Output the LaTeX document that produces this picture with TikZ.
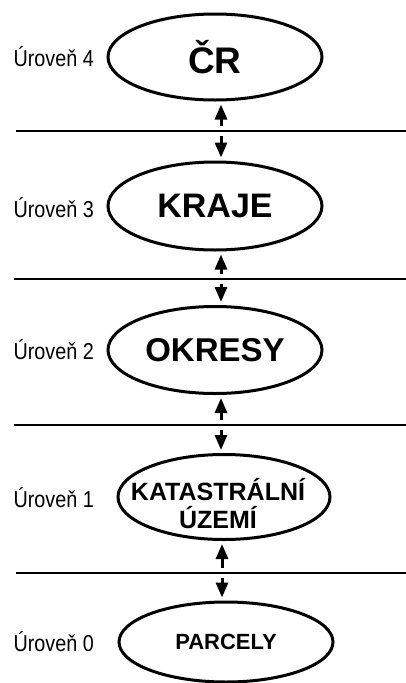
\documentclass[tikz,border=0pt]{standalone}
\usepackage{fontspec}
\setmainfont{Liberation Sans}
\newfontfamily\narrowfont[FakeStretch=0.86]{Liberation Sans}
\usepackage{tikz}
\usetikzlibrary{shapes.geometric, arrows.meta}

\tikzset{
  level/.style={draw, ellipse, line width=3pt, inner sep=0pt, font=\bfseries, align=center},
  lbl/.style={anchor=west, font=\narrowfont\fontsize{23}{23}\selectfont},
  sep/.style={line width=2.5pt},
  tip/.style={line width=3pt, shorten >=3pt, -{Triangle[width=12pt,length=15pt]}}
}

\begin{document}
\begin{tikzpicture}[x=1pt,y=-1pt]
\useasboundingbox (0,0) rectangle (406,683);
% the five levels
\node[level, minimum width=214pt, minimum height=86pt, font=\bfseries\fontsize{37}{37}\selectfont] (cr) at (215,57) {ČR};
\node[level, minimum width=214pt, minimum height=88pt, font=\bfseries\fontsize{34}{34}\selectfont] (kraje) at (215,206) {KRAJE};
\node[level, minimum width=214pt, minimum height=87pt, font=\bfseries\fontsize{33}{33}\selectfont] (okresy) at (215,350) {OKRESY};
\node[level, minimum width=212pt, minimum height=85pt] (ku) at (224,497) {};
\node[font=\bfseries\fontsize{25}{28}\selectfont, align=center, inner sep=0pt] (kutext) at (218,504) {KATASTRÁLNÍ\\ÚZEMÍ};
\node[level, minimum width=214pt, minimum height=80pt, font=\bfseries\fontsize{22}{22}\selectfont] (parcely) at (226,642) {PARCELY};
\foreach \n/\y in {4/57, 3/208, 2/350, 1/498, 0/642}{
\node[lbl] (u\n) at (10,\y) {Úroveň \n};
}
% separators and arrows between levels
\foreach \top/\bot/\y/\x/\l in {cr/kraje/131/221/16, kraje/okresy/279/221/14, okresy/ku/425/221/14, ku/parcely/573/222/16}{
\draw[sep] (\l,\y) -- (406,\y);
\coordinate (up) at (\x,\y-5);
\coordinate (dn) at (\x,\y+5);
\draw[tip] (up) -- (up |- \top.south);
\draw[tip] (dn) -- (dn |- \bot.north);
}
\end{tikzpicture}
\end{document}
